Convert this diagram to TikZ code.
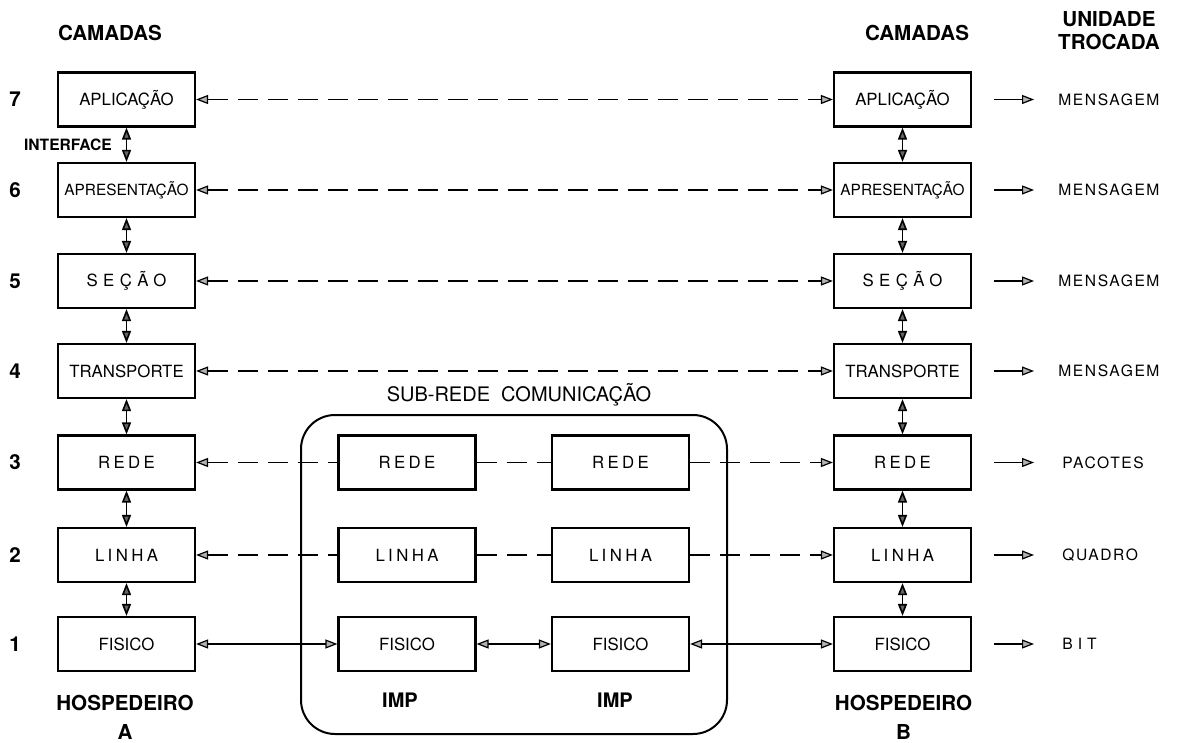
\documentclass[tikz,border=0pt]{standalone}
\usepackage{fontspec}
\setmainfont{TeX Gyre Heros}
\newfontfamily\espaco[LetterSpace=20]{TeX Gyre Heros}
\newfontfamily\espacolargo[LetterSpace=32]{TeX Gyre Heros}
\newfontfamily\espacocurto[LetterSpace=10]{TeX Gyre Heros}
\usetikzlibrary{arrows.meta}
\begin{document}
\begin{tikzpicture}[x=0.5pt,y=-0.5pt,
    camada/.style={draw,line width=1.1pt,minimum width=68.5pt,minimum height=27pt,inner sep=1pt,font=\fontsize{8.4}{10}\selectfont},
    par/.style={line width=0.6pt,dash pattern=on 10pt off 5pt},
    liga/.style={line width=0.6pt},
    interf/.style={line width=0.8pt,>={Triangle[length=6pt,width=4.5pt,fill=gray!80!black]}},
    titulo/.style={font=\fontsize{10.3}{14.5}\selectfont\bfseries},
    unidade/.style={anchor=west,inner sep=0pt,font=\espacocurto\fontsize{7.8}{9}\selectfont},
    >={Triangle[length=6pt,width=4.5pt,fill=gray!60]}]
  \useasboundingbox (0,0) rectangle (1177,743);
  % Titulos
  \node[titulo] (camA) at (110,33) {CAMADAS};
  \node[titulo] (camB) at (917,33) {CAMADAS};
  \node[titulo,font=\fontsize{10.3}{11.5}\selectfont\bfseries,align=center] (unid) at (1109,31) {UNIDADE\\TROCADA};
  % Numeros das camadas
  \node[titulo] (n7) at (15,99.5) {7};
  \node[titulo] (n6) at (15,190) {6};
  \node[titulo] (n5) at (15,281) {5};
  \node[titulo] (n4) at (15,371) {4};
  \node[titulo] (n3) at (15,462.5) {3};
  \node[titulo] (n2) at (15,555) {2};
  \node[titulo] (n1) at (15,644) {1};
  % Hospedeiro A
  \node[camada] (a7) at (126.5,99.5) {APLICAÇÃO};
  \node[camada,font=\fontsize{7.7}{9}\selectfont] (a6) at (126.5,190) {APRESENTAÇÃO};
  \node[camada,font=\espacolargo\fontsize{8.4}{10}\selectfont] (a5) at (126.5,281) {SEÇÃO};
  \node[camada] (a4) at (126.5,371) {TRANSPORTE};
  \node[camada,font=\espaco\fontsize{8.4}{10}\selectfont] (a3) at (126.5,462.5) {REDE};
  \node[camada,font=\espaco\fontsize{8.4}{10}\selectfont] (a2) at (126.5,555) {LINHA};
  \node[camada] (a1) at (126.5,644) {FISICO};
  % Hospedeiro B
  \node[camada] (b7) at (902.5,99.5) {APLICAÇÃO};
  \node[camada,font=\fontsize{7.7}{9}\selectfont] (b6) at (902.5,190) {APRESENTAÇÃO};
  \node[camada,font=\espacolargo\fontsize{8.4}{10}\selectfont] (b5) at (902.5,281) {SEÇÃO};
  \node[camada] (b4) at (902.5,371) {TRANSPORTE};
  \node[camada,font=\espaco\fontsize{8.4}{10}\selectfont] (b3) at (902.5,462.5) {REDE};
  \node[camada,font=\espaco\fontsize{8.4}{10}\selectfont] (b2) at (902.5,555) {LINHA};
  \node[camada] (b1) at (902.5,644) {FISICO};
  % Sub-rede
  \draw[line width=1pt,rounded corners=17pt] (301,415) rectangle (727,734);
  \node[font=\fontsize{10}{12}\selectfont] (sub) at (519,395) {SUB-REDE\ \ COMUNICAÇÃO};
  \node[camada,font=\espaco\fontsize{8.4}{10}\selectfont] (m3) at (407,462.5) {REDE};
  \node[camada,font=\espaco\fontsize{8.4}{10}\selectfont] (m2) at (407,555) {LINHA};
  \node[camada] (m1) at (407,644) {FISICO};
  \node[camada,font=\espaco\fontsize{8.4}{10}\selectfont] (p3) at (620.5,462.5) {REDE};
  \node[camada,font=\espaco\fontsize{8.4}{10}\selectfont] (p2) at (620.5,555) {LINHA};
  \node[camada] (p1) at (620.5,644) {FISICO};
  \node[titulo,font=\fontsize{10}{12}\selectfont\bfseries] (imp1) at (400,700) {IMP};
  \node[titulo,font=\fontsize{10}{12}\selectfont\bfseries] (imp2) at (615,700) {IMP};
  % Rotulos de baixo
  \node[titulo,align=center] (hA) at (125,717) {HOSPEDEIRO\\A};
  \node[titulo,align=center] (hB) at (903.5,717) {HOSPEDEIRO\\B};
  \node[font=\fontsize{7.8}{9}\selectfont\bfseries] (intf) at (68,145) {INTERFACE};
  % Unidades trocadas
  \node[unidade] (u7) at (1058,99.5) {MENSAGEM};
  \node[unidade] (u6) at (1058,190) {MENSAGEM};
  \node[unidade] (u5) at (1058,281) {MENSAGEM};
  \node[unidade] (u4) at (1058,371) {MENSAGEM};
  \node[unidade] (u3) at (1062,462.5) {PACOTES};
  \node[unidade] (u2) at (1062,555) {QUADRO};
  \node[unidade,font=\espacolargo\fontsize{7.8}{9}\selectfont] (u1) at (1062,644) {BIT};
  % Protocolos pares
  \draw[par,<->] (a7) -- (b7);
  \draw[par,<->] (a6) -- (b6);
  \draw[par,<->] (a5) -- (b5);
  \draw[par,<->] (a4) -- (b4);
  \draw[par,<-] (a3) -- (m3);
  \draw[par] (m3) -- (p3);
  \draw[par,->] (p3) -- (b3);
  \draw[par,<-] (a2) -- (m2);
  \draw[par] (m2) -- (p2);
  \draw[par,->] (p2) -- (b2);
  \draw[liga,<->] (a1) -- (m1);
  \draw[liga,<->] (m1) -- (p1);
  \draw[liga,<->] (p1) -- (b1);
  % Interfaces
  \draw[interf,<->] (a7) -- (a6);
  \draw[interf,<->] (a6) -- (a5);
  \draw[interf,<->] (a5) -- (a4);
  \draw[interf,<->] (a4) -- (a3);
  \draw[interf,<->] (a3) -- (a2);
  \draw[interf,<->] (a2) -- (a1);
  \draw[interf,<->] (b7) -- (b6);
  \draw[interf,<->] (b6) -- (b5);
  \draw[interf,<->] (b5) -- (b4);
  \draw[interf,<->] (b4) -- (b3);
  \draw[interf,<->] (b3) -- (b2);
  \draw[interf,<->] (b2) -- (b1);
  % Setas das unidades
  \draw[liga,->,shorten <=11pt,shorten >=12pt] (b7) -- (u7);
  \draw[liga,->,shorten <=11pt,shorten >=12pt] (b6) -- (u6);
  \draw[liga,->,shorten <=11pt,shorten >=12pt] (b5) -- (u5);
  \draw[liga,->,shorten <=11pt,shorten >=12pt] (b4) -- (u4);
  \draw[liga,->,shorten <=11pt,shorten >=14pt] (b3) -- (u3);
  \draw[liga,->,shorten <=11pt,shorten >=14pt] (b2) -- (u2);
  \draw[liga,->,shorten <=11pt,shorten >=14pt] (b1) -- (u1);
\end{tikzpicture}
\end{document}
